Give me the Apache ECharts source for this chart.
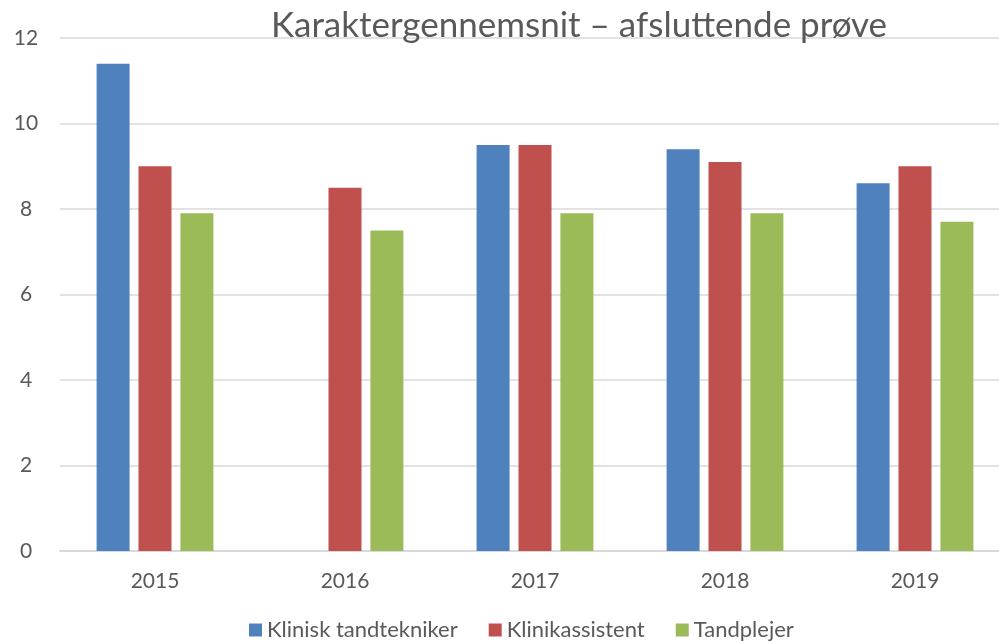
<!DOCTYPE html>
<html>
<head>
<meta charset="utf-8">
<script src="https://cdn.jsdelivr.net/npm/echarts@6/dist/echarts.min.js"></script>
<style>
    html, body { margin: 0; padding: 0; background: #fff; overflow: hidden; }
    #main { width: 1011px; height: 641px; }
</style>
</head>
<body>
<div id="main"></div>
<script>
var years = ['2015', '2016', '2017', '2018', '2019'];
var tandtekniker = [11.4, null, 9.5, 9.4, 8.6];
var klinikassistent = [9.0, 8.5, 9.5, 9.1, 9.0];
var tandplejer = [7.9, 7.5, 7.9, 7.9, 7.7];
var seriesNames = ['Klinisk tandtekniker', 'Klinikassistent', 'Tandplejer'];

var textColor = '#595959';
var font = 'Lato, "Open Sans", sans-serif';

// the chart is a bit wider than the window, the right edge is cut like in the original
var myChart = echarts.init(document.getElementById('main'));

var option = {
    animation: false,
    color: ['#4F81BD', '#C0504D', '#9BBB59'],
    textStyle: { fontFamily: font, color: textColor },
    title: {
        text: 'Karaktergennemsnit – afsluttende prøve',
        left: 574,
        textAlign: 'center',
        top: 3,
        textStyle: { fontSize: 35, fontWeight: 'normal', color: textColor, fontFamily: font }
    },
    legend: {
        top: 614,
        left: 244,
        itemWidth: 13,
        itemHeight: 13,
        itemGap: 31,
        icon: 'rect',
        textStyle: { fontSize: 22, color: textColor, fontFamily: font },
        data: seriesNames
    },
    grid: {
        left: 60,
        top: 38,
        width: 950,
        height: 513
    },
    xAxis: {
        type: 'category',
        data: years,
        axisTick: { show: false },
        axisLine: { lineStyle: { color: '#d9d9d9', width: 2 } },
        axisLabel: { fontSize: 21, color: textColor, margin: 20 }
    },
    yAxis: {
        type: 'value',
        min: 0,
        max: 12,
        interval: 2,
        axisLine: { show: false },
        axisTick: { show: false },
        splitLine: { lineStyle: { color: '#d9d9d9', width: 1.5 } },
        axisLabel: { fontSize: 21, color: textColor, margin: 34, align: 'center' }
    },
    series: [
        { name: seriesNames[0], type: 'bar', data: tandtekniker, barWidth: 33, barGap: '27%' },
        { name: seriesNames[1], type: 'bar', data: klinikassistent, barWidth: 33, barGap: '27%' },
        { name: seriesNames[2], type: 'bar', data: tandplejer, barWidth: 33, barGap: '27%' }
    ]
};
myChart.setOption(option);
</script>
</body>
</html>
